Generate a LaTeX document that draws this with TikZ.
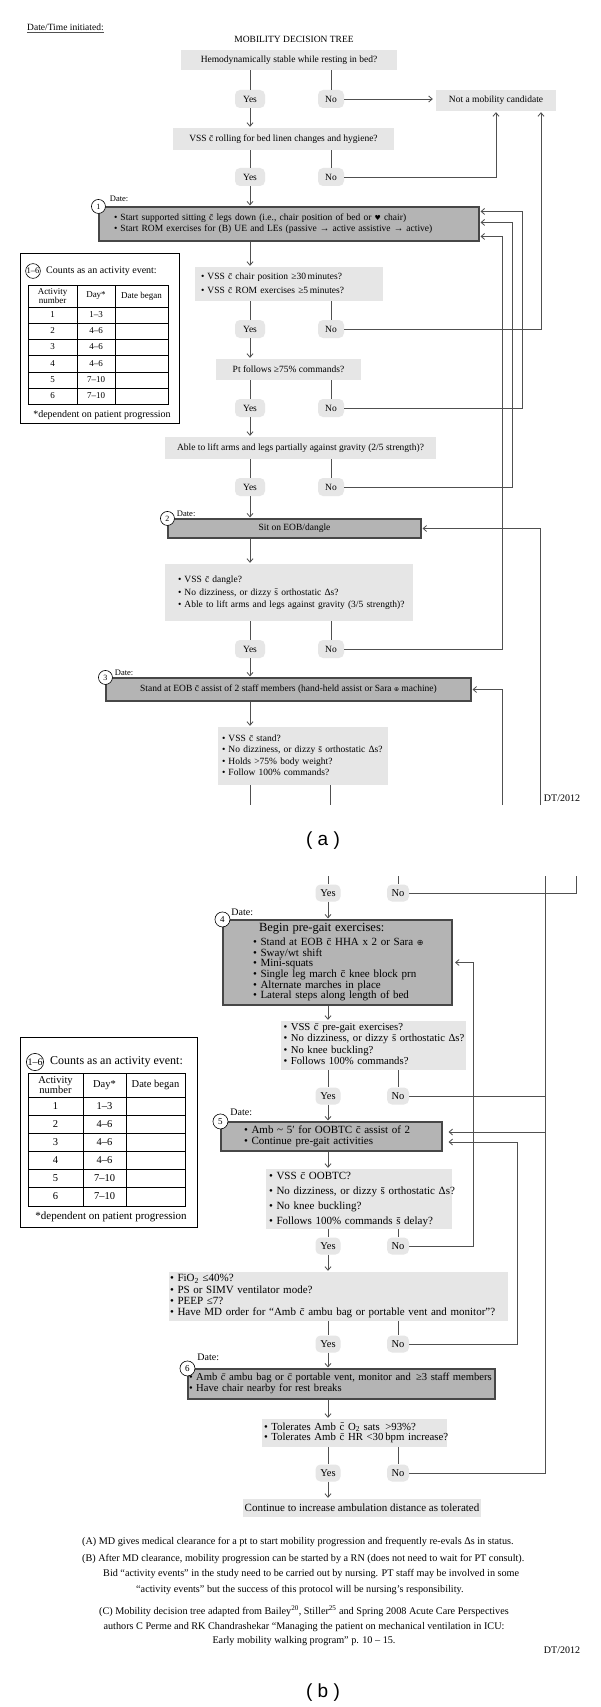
\documentclass[tikz,border=0pt]{standalone}
\usepackage{fontspec}
\setmainfont{Liberation Serif}
\newfontfamily\symf{DejaVu Sans}
\newfontfamily\sansf{Liberation Sans}
\usetikzlibrary{arrows.meta}
\definecolor{qfill}{HTML}{E6E6E6}
\definecolor{afill}{HTML}{B4B4B4}
\definecolor{aline}{HTML}{474747}
\definecolor{lcol}{HTML}{505050}
\newcommand\cbar{\={c}}
\newcommand\sbar{\={s}}
\newcommand\fs[2]{\fontsize{#1}{#2}\selectfont}
\newcommand\boxlines[1]{\begin{tabular}{@{}l@{}}#1\end{tabular}}
\begin{document}
\begin{tikzpicture}[x=1pt,y=-1pt,
  qbox/.style={fill=qfill, inner sep=0pt, font=\fs{9.5}{11}},
  abox/.style={fill=afill, draw=aline, line width=1.1pt, inner sep=0pt, font=\fs{9.5}{11}},
  pill/.style={fill=qfill, rounded corners=5pt, inner sep=0pt, minimum height=18pt, font=\fs{9.5}{11}},
  pillb/.style={pill, minimum height=17pt, font=\fs{10.5}{12}},
  num/.style={circle, draw=black, fill=white, line width=0.6pt, minimum size=14pt, inner sep=0pt, font=\fs{8}{9}},
  numb/.style={num, minimum size=15pt, font=\fs{9}{10}},
  datel/.style={anchor=west, inner sep=0pt, font=\fs{8.5}{10}},
  datelb/.style={datel, font=\fs{10}{11}},
  conn/.style={draw=lcol, line width=0.8pt},
  arr/.style={conn, -{Straight Barb[length=3.5pt,width=6pt]}, shorten >=1pt},
  tab/.style={draw=black, line width=0.7pt},
  cell/.style={inner sep=0pt, font=\fs{9}{9.5}, align=center},
  cellb/.style={cell, font=\fs{10.5}{10.5}},
  note/.style={inner sep=0pt, font=\fs{10.2}{14.5}},
]
\useasboundingbox[fill=white] (0,0) rectangle (600,1707);

% ================= PART A =================
\node[anchor=west, inner sep=0pt, font=\fs{9.5}{11}] (dti) at (27,27) {Date/Time initiated:};
\draw[line width=1.1pt, draw=lcol] ([yshift=-1.5pt]dti.south west) -- ([yshift=-1.5pt]dti.south east);
\node[inner sep=0pt, font=\fs{9.5}{11}] (title) at (294,39) {MOBILITY DECISION TREE};

\node[qbox, minimum width=216pt, minimum height=20pt] (q1) at (289,60) {Hemodynamically stable while resting in bed?};
\node[pill, minimum width=30pt] (y1) at (250,99) {Yes};
\node[pill, minimum width=26pt] (n1) at (331,99) {No};
\node[qbox, minimum width=120pt, minimum height=21pt] (nm) at (496,100.5) {Not a mobility candidate};

\node[qbox, minimum width=221pt, minimum height=22pt] (q2) at (283.5,139) {VSS \cbar{} rolling for bed linen changes and hygiene?};
\node[pill, minimum width=30pt] (y2) at (250,177) {Yes};
\node[pill, minimum width=26pt] (n2) at (331,177) {No};

\node[abox, minimum height=34pt, text width=350pt, inner xsep=15pt, align=left, font=\fs{9.5}{10.5}] (b1) at (289,224)
  {\boxlines{• Start supported sitting \cbar{} legs down (i.e., chair position of bed or {\symf\fs{7}{8}♥} chair)\\• Start ROM exercises for (B) UE and LEs (passive → active assistive → active)}};
\node[num] (c1) at (b1.north west) {1};
\node[datel] (d1) at ([xshift=4pt,yshift=8pt]c1.east) {Date:};
\coordinate (b1a) at ([yshift=-5pt]b1.north east);
\coordinate (b1b) at ([yshift=-16pt]b1.north east);
\coordinate (b1c) at ([yshift=-30pt]b1.north east);

\node[qbox, minimum height=34pt, text width=176pt, inner xsep=6pt, align=left, font=\fs{9.5}{14}] (q3) at (289,284)
  {\boxlines{• VSS \cbar{} chair position ≥30\,minutes?\\• VSS \cbar{} ROM exercises ≥5\,minutes?}};
\node[pill, minimum width=30pt] (y3) at (250,329) {Yes};
\node[pill, minimum width=26pt] (n3) at (331,329) {No};

\node[qbox, minimum width=145pt, minimum height=21pt] (q4) at (288.5,369.5) {Pt follows ≥75\% commands?};
\node[pill, minimum width=30pt] (y4) at (250,408) {Yes};
\node[pill, minimum width=26pt] (n4) at (331,408) {No};

\node[qbox, minimum width=271pt, minimum height=22pt] (q5) at (300.5,448) {Able to lift arms and legs partially against gravity (2/5 strength)?};
\node[pill, minimum width=30pt] (y5) at (250,487) {Yes};
\node[pill, minimum width=26pt] (n5) at (331,487) {No};

\node[abox, minimum width=253pt, minimum height=19pt] (b2) at (294.5,528.5) {Sit on EOB/dangle};
\node[num] (c2) at (b2.north west) {2};
\node[datel] (d2) at ([xshift=2pt,yshift=5pt]c2.east) {Date:};

\node[qbox, minimum height=57pt, text width=222pt, inner xsep=13pt, align=left, font=\fs{9.5}{12.5}] (q6) at (289,592.5)
  {\boxlines{• VSS \cbar{} dangle?\\• No dizziness, or dizzy \sbar{} orthostatic Δs?\\• Able to lift arms and legs against gravity (3/5 strength)?}};
\node[pill, minimum width=30pt] (y6) at (250,649) {Yes};
\node[pill, minimum width=26pt] (n6) at (331,649) {No};

\node[abox, minimum width=365pt, minimum height=23pt] (b3) at (288.5,689.5) {Stand at EOB \cbar{} assist of 2 staff members (hand-held assist or Sara {\symf\fs{6}{7}⊕} machine)};
\node[num] (c3) at (b3.north west) {3};
\node[datel] (d3) at ([xshift=2pt,yshift=5pt]c3.east) {Date:};

\node[qbox, minimum height=58pt, text width=162pt, inner xsep=4pt, align=left, font=\fs{9.5}{11.5}] (q7) at (303,756)
  {\boxlines{• VSS \cbar{} stand?\\• No dizziness, or dizzy \sbar{} orthostatic Δs?\\• Holds >75\% body weight?\\• Follow 100\% commands?}};

\coordinate (ea1) at (250,805);
\coordinate (ea2) at (330,805);
\coordinate (ea3) at (502,805);
\coordinate (ea4) at (540,805);
\coordinate (xa1) at (541,0);
\coordinate (xa2) at (522,0);
\coordinate (xa3) at (512,0);
\coordinate (xa4) at (502,0);

\node[font=\fs{10}{11}, inner sep=0pt] (dta) at (562,798) {DT/2012};
\node[font=\sansf\fs{19}{20}, inner sep=0pt] (laba) at (323,841) {( a )};

% connectors part A
\draw[conn] (y1.north |- q1.south) -- (y1.north);
\draw[conn] (n1.north |- q1.south) -- (n1.north);
\draw[arr, shorten >=3pt] (n1.east) -- (n1.east -| nm.west);
\draw[arr] (y1.south) -- (y1.south |- q2.north);
\draw[conn] (y2.north |- q2.south) -- (y2.north);
\draw[conn] (n2.north |- q2.south) -- (n2.north);
\draw[arr] (n2.east) -| (nm.south);
\draw[arr] (y2.south) -- (y2.south |- b1.north);
\draw[arr] (b1.south -| y2.south) -- (y2.south |- q3.north);
\draw[conn] (y3.north |- q3.south) -- (y3.north);
\draw[conn] (n3.north |- q3.south) -- (n3.north);
\draw[arr] (n3.east) -- (n3.east -| xa1) -- (xa1 |- nm.south);
\draw[arr] (y3.south) -- (y3.south |- q4.north);
\draw[conn] (y4.north |- q4.south) -- (y4.north);
\draw[conn] (n4.north |- q4.south) -- (n4.north);
\draw[arr] (n4.east) -- (n4.east -| xa2) -- (xa2 |- b1a) -- (b1a);
\draw[arr] (y4.south) -- (y4.south |- q5.north);
\draw[conn] (y5.north |- q5.south) -- (y5.north);
\draw[conn] (n5.north |- q5.south) -- (n5.north);
\draw[arr] (n5.east) -- (n5.east -| xa3) -- (xa3 |- b1b) -- (b1b);
\draw[arr] (y5.south) -- (y5.south |- b2.north);
\draw[arr] (b2.south -| y5.south) -- (y5.south |- q6.north);
\draw[conn] (y6.north |- q6.south) -- (y6.north);
\draw[conn] (n6.north |- q6.south) -- (n6.north);
\draw[arr] (n6.east) -- (n6.east -| xa4) -- (xa4 |- b1c) -- (b1c);
\draw[arr] (y6.south) -- (y6.south |- b3.north);
\draw[arr] (b3.south -| y6.south) -- (y6.south |- q7.north);
\draw[conn] (q7.south -| ea1) -- (ea1);
\draw[conn] (q7.south -| ea2) -- (ea2);
\draw[arr] (ea3) -- (ea3 |- b3.east) -- (b3.east);
\draw[arr] (ea4) -- (ea4 |- b2.east) -- (b2.east);

% legend A
\node[draw=black, line width=0.8pt, minimum width=159pt, minimum height=170pt, inner sep=0pt] (lega) at (99.5,338) {};
\node[circle, draw=black, line width=0.6pt, inner sep=0.3pt, font=\fs{8.5}{9}] (lca) at (33,271) {1–6};
\node[anchor=west, inner sep=0pt, font=\fs{10}{11}] (lta) at (46,271) {Counts as an activity event:};
\draw[tab] (28,285) rectangle (168,404);
\draw[tab] (77,285) -- (77,404) (115,285) -- (115,404);
\foreach \yy in {307,323,339,355,372,388} \draw[tab] (28,\yy) -- (168,\yy);
\node[cell, font=\fs{9}{8.5}] (ha1) at (52.5,296) {Activity\\number};
\node[cell] (ha2) at (96,296) {Day*};
\node[cell] (ha3) at (141.5,296) {Date began};
\foreach \n/\d/\yy in {1/1–3/315, 2/4–6/331, 3/4–6/347, 4/4–6/363.5, 5/7–10/380, 6/7–10/396}{
  \node[cell] (ra\n) at (52.5,\yy) {\n};
  \node[cell] (da\n) at (96,\yy) {\d};
}
\node[inner sep=0pt, font=\fs{10}{11}] (fa) at (102,415) {*dependent on patient progression};

% ================= PART B =================
\coordinate (ct1) at (328,876);
\coordinate (ct2) at (398,876);
\coordinate (ct3) at (545,876);
\coordinate (ct4) at (576,876);
\coordinate (xb1) at (473,0);
\coordinate (xb2) at (517,0);

\node[pillb, minimum width=25pt] (yb1) at (328,893) {Yes};
\node[pillb, minimum width=22pt] (nb1) at (398,893) {No};

\node[abox, minimum height=85pt, text width=169pt, inner xsep=30pt, align=left, font=\fs{11}{10.3}] (b4) at (337.5,962.5)
  {\boxlines{\hspace*{6pt}{\fs{12.5}{10.3}Begin pre-gait exercises:}\\[3.5pt]• Stand at EOB \cbar{} HHA\,\,x 2 or Sara {\symf\fs{8}{9}⊕}\\• Sway/wt shift\\• Mini-squats\\• Single leg march \cbar{} knee block prn\\• Alternate marches in place\\• Lateral steps along length of bed}};
\node[numb] (c4) at (b4.north west) {4};
\node[datelb] (d4) at ([xshift=1pt,yshift=7pt]c4.east) {Date:};

\node[qbox, minimum height=49pt, text width=180pt, inner xsep=2.5pt, align=left, font=\fs{10.7}{10}] (q8) at (373.5,1045.5)
  {\boxlines{• VSS \cbar{} pre-gait exercises?\\• No dizziness, or dizzy \sbar{} orthostatic Δs?\\[2pt]• No knee buckling?\\• Follows 100\% commands?}};
\node[pillb, minimum width=25pt] (yb2) at (328,1096) {Yes};
\node[pillb, minimum width=22pt] (nb2) at (398,1096) {No};

\node[abox, minimum height=29pt, text width=175pt, inner xsep=23pt, align=left, font=\fs{11}{11}] (b5) at (331.5,1136.5)
  {\boxlines{• Amb \textasciitilde\ 5′ for OOBTC \cbar{} assist of 2\\• Continue pre-gait activities}};
\node[numb] (c5) at (b5.north west) {5};
\node[datelb] (d5) at ([xshift=2pt,yshift=9pt]c5.east) {Date:};
\coordinate (b5a) at ([yshift=4.5pt]b5.east);
\coordinate (b5b) at ([yshift=-5.5pt]b5.east);

\node[qbox, minimum height=60pt, text width=180pt, inner xsep=3pt, align=left, font=\fs{11}{15}] (q9) at (359,1199)
  {\boxlines{• VSS \cbar{} OOBTC?\\• No dizziness, or dizzy \sbar{} orthostatic Δs?\\• No knee buckling?\\• Follows 100\% commands \sbar{} delay?}};
\node[pillb, minimum width=25pt] (yb3) at (328,1246) {Yes};
\node[pillb, minimum width=22pt] (nb3) at (398,1246) {No};

\node[qbox, minimum height=49pt, text width=337pt, inner xsep=1pt, align=left, font=\fs{11}{11.3}] (q10) at (338.5,1296.5)
  {\boxlines{• FiO\textsubscript{2} ≤40\%?\\• PS or SIMV ventilator mode?\\• PEEP ≤7?\\• Have MD order for “Amb \cbar{} ambu bag or portable vent and monitor”?}};
\node[pillb, minimum width=25pt] (yb4) at (328,1344) {Yes};
\node[pillb, minimum width=22pt] (nb4) at (398,1344) {No};

\node[abox, minimum height=30pt, text width=305pt, inner xsep=1pt, align=left, font=\fs{10.6}{11}] (b6) at (341.5,1384)
  {\boxlines{• Amb \cbar{} ambu bag or \cbar{} portable vent, monitor and \,≥3 staff members\\• Have chair nearby for rest breaks}};
\node[numb] (c6) at (b6.north west) {6};
\node[datelb] (d6) at ([xshift=2pt,yshift=11pt]c6.east) {Date:};

\node[qbox, minimum height=28pt, text width=181pt, inner xsep=2pt, align=left, font=\fs{10.8}{10}] (q11) at (354.5,1433)
  {\boxlines{• Tolerates Amb \cbar{} O\textsubscript{2} sats \,>93\%?\\• Tolerates Amb \cbar{} HR <30\,bpm increase?}};
\node[pillb, minimum width=25pt] (yb5) at (328,1473) {Yes};
\node[pillb, minimum width=22pt] (nb5) at (398,1473) {No};

\node[qbox, minimum width=238pt, minimum height=18pt, font=\fs{11}{12}] (q12) at (362,1508) {Continue to increase ambulation distance as tolerated};

% connectors part B
\draw[conn] (ct1) -- (yb1.north);
\draw[conn] (ct2) -- (nb1.north);
\draw[conn] (nb1.east) -- (nb1.east -| ct4) -- (ct4);
\draw[conn] (ct3) -- (ct3 |- b5a);
\draw[arr] (yb1.south) -- (yb1.south |- b4.north);
\draw[arr] (b4.south -| yb1.south) -- (yb1.south |- q8.north);
\draw[conn] (yb2.north |- q8.south) -- (yb2.north);
\draw[conn] (nb2.north |- q8.south) -- (nb2.north);
\draw[conn] (nb2.east) -- (nb2.east -| ct3);
\draw[arr] (yb2.south) -- (yb2.south |- b5.north);
\draw[arr] (b5.south -| yb2.south) -- (yb2.south |- q9.north);
\draw[conn] (yb3.north |- q9.south) -- (yb3.north);
\draw[conn] (nb3.north |- q9.south) -- (nb3.north);
\draw[arr, shorten >=2.5pt] (nb3.east) -- (nb3.east -| xb1) -- (xb1 |- b4.east) -- (b4.east);
\draw[arr] (yb3.south) -- (yb3.south |- q10.north);
\draw[conn] (yb4.north |- q10.south) -- (yb4.north);
\draw[conn] (nb4.north |- q10.south) -- (nb4.north);
\draw[arr, shorten >=6pt] (nb4.east) -- (nb4.east -| xb2) -- (xb2 |- b5b) -- (b5b);
\draw[arr] (yb4.south) -- (yb4.south |- b6.north);
\draw[arr] (b6.south -| yb4.south) -- (yb4.south |- q11.north);
\draw[conn] (yb5.north |- q11.south) -- (yb5.north);
\draw[conn] (nb5.north |- q11.south) -- (nb5.north);
\draw[arr, shorten >=6pt] (nb5.east) -- (nb5.east -| ct3) -- (ct3 |- b5a) -- (b5a);
\draw[arr] (yb5.south) -- (yb5.south |- q12.north);

% legend B
\node[draw=black, line width=0.8pt, minimum width=177pt, minimum height=190pt, inner sep=0pt] (legb) at (108.5,1132) {};
\node[circle, draw=black, line width=0.6pt, inner sep=0.3pt, font=\fs{10}{10}] (lcb) at (35,1062) {1–6};
\node[anchor=west, inner sep=0pt, font=\fs{12}{13}] (ltb) at (50,1062) {Counts as an activity event:};
\draw[tab] (28,1073) rectangle (185,1206);
\draw[tab] (83,1073) -- (83,1206) (126,1073) -- (126,1206);
\foreach \yy in {1097,1115,1133,1151,1169,1187} \draw[tab] (28,\yy) -- (185,\yy);
\node[cellb, font=\fs{10.5}{9.5}] (hb1) at (55.5,1085) {Activity\\number};
\node[cellb] (hb2) at (104.5,1085) {Day*};
\node[cellb] (hb3) at (155.5,1085) {Date began};
\foreach \n/\d/\yy in {1/1–3/1106, 2/4–6/1124, 3/4–6/1142, 4/4–6/1160, 5/7–10/1178, 6/7–10/1196.5}{
  \node[cellb] (rb\n) at (55.5,\yy) {\n};
  \node[cellb] (db\n) at (104.5,\yy) {\d};
}
\node[inner sep=0pt, font=\fs{11}{12}] (fb) at (111,1217) {*dependent on patient progression};

% notes
\node[note, anchor=west] (nA) at (82,1542) {(A) MD gives medical clearance for a pt to start mobility progression and frequently re-evals Δs in status.};
\node[note, anchor=west] (nB) at (82,1559) {(B) After MD clearance, mobility progression can be started by a RN (does not need to wait for PT consult).};
\node[note, anchor=west] (nB2) at (103,1574) {Bid “activity events” in the study need to be carried out by nursing. PT staff may be involved in some};
\node[note, anchor=west] (nB3) at (136,1590) {“activity events” but the success of this protocol will be nursing’s responsibility.};
\node[note, align=center] (nC) at (304,1626) {(C) Mobility decision tree adapted from Bailey\textsuperscript{20}, Stiller\textsuperscript{25} and Spring 2008 Acute Care Perspectives\\authors C Perme and RK Chandrashekar “Managing the patient on mechanical ventilation in ICU:\\Early mobility walking program” p. 10 – 15.};
\node[font=\fs{10}{11}, inner sep=0pt] (dtb) at (562,1650) {DT/2012};
\node[font=\sansf\fs{19}{20}, inner sep=0pt] (labb) at (323,1693) {( b )};
\end{tikzpicture}
\end{document}
